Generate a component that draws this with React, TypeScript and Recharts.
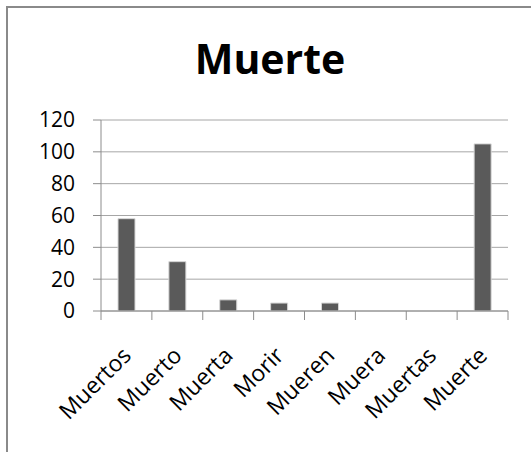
import React from 'react'
import { BarChart, Bar, XAxis, YAxis, CartesianGrid } from 'recharts'

const title = 'Muerte'
const categories = ['Muertos', 'Muerto', 'Muerta', 'Morir', 'Mueren', 'Muera', 'Muertas', 'Muerte']
const values = [58, 31, 7, 5, 5, 0, 0, 105]
const yTicks = [0, 20, 40, 60, 80, 100, 120]

// bars sit in the middle of each slot on a numeric axis, slot edges get the tick marks
const data = categories.map((name, i) => ({ name, pos: i + 0.5, value: values[i] }))
const xTicks = Array.from({ length: categories.length * 2 + 1 }, (_, i) => i / 2)

const FONT = '"Open Sans", sans-serif'
const AXIS = '#8c8c8c'

function SlotTick(props: any) {
  const { x, y, payload } = props
  const v = payload.value as number
  if (Number.isInteger(v)) {
    return <line x1={x} x2={x} y1={y} y2={y + 9} stroke={AXIS} strokeWidth={1} />
  }
  const label = categories[Math.floor(v)]
  return (
    <g transform={`translate(${x + 6},${y + 46})`}>
      <text textAnchor="end" transform="rotate(-45)" fontSize={23} fontFamily={FONT} fill="#000">
        {label}
      </text>
    </g>
  )
}

export default function App() {
  return (
    <div style={{ position: 'absolute', left: 0, top: 0, width: 531, height: 452, overflow: 'hidden', background: '#fff' }}>
      <div
        style={{
          position: 'absolute',
          left: 6,
          top: 6,
          width: 700,
          height: 700,
          borderLeft: '2px solid #8a8a8a',
          borderTop: '2px solid #8a8a8a',
        }}
      />
      <svg width={531} height={452} style={{ position: 'absolute', left: 0, top: 0 }}>
        <text x={270} y={74} textAnchor="middle" fontSize={41} fontWeight={700} fontFamily={FONT} fill="#000">
          {title}
        </text>
      </svg>
      <div style={{ position: 'absolute', left: 0, top: 0 }}>
        <BarChart width={531} height={452} data={data} margin={{ top: 120, right: 23, bottom: 0, left: 0 }}>
          <CartesianGrid horizontal vertical={false} stroke="#a6a6a6" />
          <YAxis
            width={101}
            domain={[0, 120]}
            ticks={yTicks}
            interval={0}
            tickSize={8}
            tickMargin={18}
            axisLine={{ stroke: AXIS }}
            tickLine={{ stroke: AXIS }}
            tick={{ fontSize: 21, fontFamily: FONT, fill: '#000' }}
          />
          <XAxis
            dataKey="pos"
            type="number"
            domain={[0, categories.length]}
            ticks={xTicks}
            interval={0}
            height={141}
            tickSize={0}
            tickMargin={0}
            axisLine={{ stroke: AXIS }}
            tickLine={false}
            tick={<SlotTick />}
          />
          <Bar
            dataKey="value"
            barSize={17}
            fill="#5a5a5a"
            stroke="#d6d6d6"
            strokeWidth={1}
            isAnimationActive={false}
          />
        </BarChart>
      </div>
    </div>
  )
}
